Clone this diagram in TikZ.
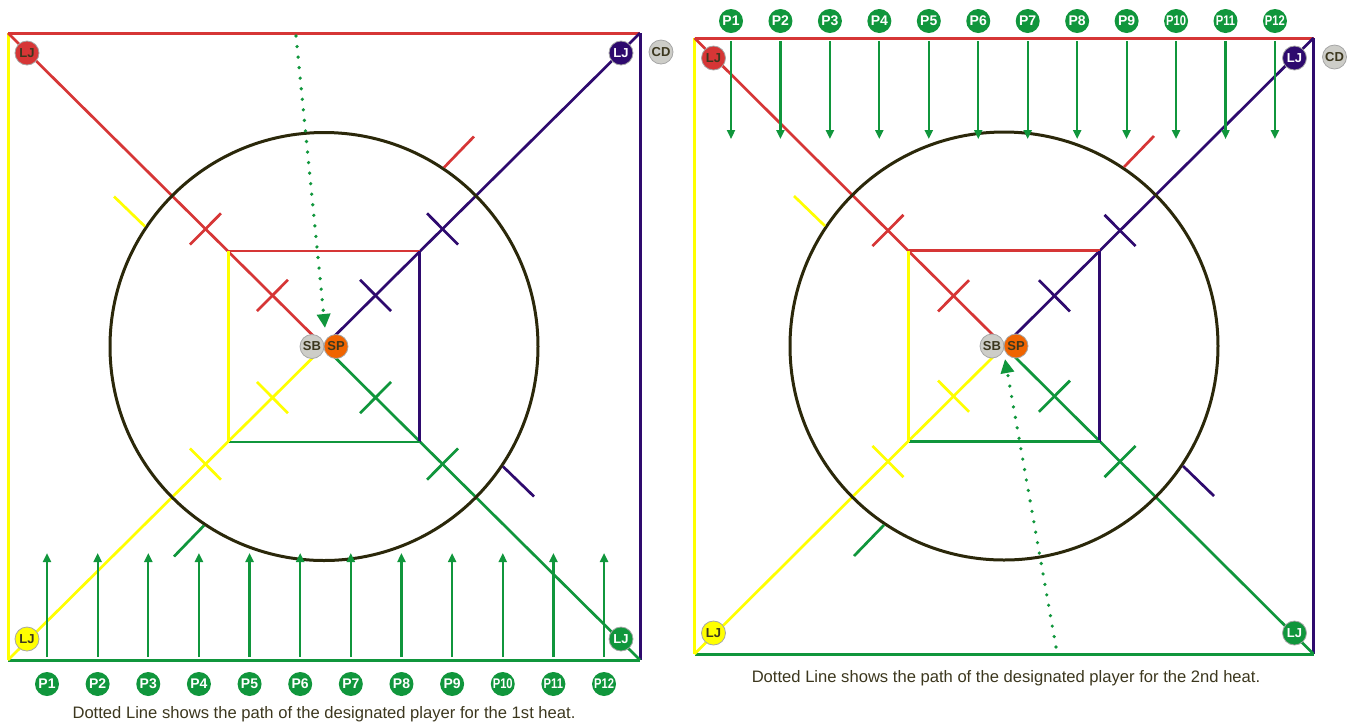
\documentclass[tikz,border=0pt]{standalone}
\usepackage{fontspec}
\setmainfont{Liberation Sans}
\usetikzlibrary{arrows.meta,calc}

\definecolor{lnred}{HTML}{D63636}
\definecolor{lnyellow}{HTML}{FFFF00}
\definecolor{lnpurple}{HTML}{2E0A6E}
\definecolor{lngreen}{HTML}{10963C}
\definecolor{ringdark}{HTML}{2B280A}
\definecolor{inkdark}{HTML}{3C371E}
\definecolor{spot}{HTML}{F06400}
\definecolor{pale}{HTML}{CDCDC8}

% two-digit player numbers are squeezed
\newcommand\plabel[1]{\ifnum#1>9 \scalebox{0.8}[1]{P#1}\else P#1\fi}

\begin{document}
\begin{tikzpicture}[x=0.5pt, y=-0.5pt,
  edge/.style={line width=1.5pt},
  spoke/.style={line width=1.35pt},
  tickline/.style={line width=1.35pt},
  ring/.style={draw=ringdark, line width=1.5pt},
  disc/.style={circle, draw=black!35, line width=0.4pt, fill=#1, minimum size=12pt,
               inner sep=0pt, text=inkdark, font=\bfseries\fontsize{6.5}{7}\selectfont},
  disc/.default={pale},
  pnode/.style={circle, fill=lngreen, minimum size=12pt, inner sep=0pt, text=white,
                font=\bfseries\fontsize{7}{8}\selectfont},
  parrow/.style={-{Triangle[length=4.5pt,width=4pt]}, lngreen, line width=1.1pt},
  walk/.style={-{Triangle[length=7pt,width=6.5pt]}, lngreen, line width=1.8pt,
               line cap=round, dash pattern=on 0pt off 5.3pt},
  caption/.style={text=inkdark, font=\fontsize{8.3}{10}\selectfont}
]
  \useasboundingbox (0,0) rectangle (1351,725);

  \foreach \s/\cx/\cy/\hw/\hh in {a/324/346.5/316/313.5, b/1004/346/309.5/308} {
    \coordinate (C\s) at (\cx,\cy);
    \coordinate (TL\s) at ($(C\s)+(-\hw,-\hh)$);
    \coordinate (TR\s) at ($(C\s)+(\hw,-\hh)$);
    \coordinate (BL\s) at ($(C\s)+(-\hw,\hh)$);
    \coordinate (BR\s) at ($(C\s)+(\hw,\hh)$);

    % outer square
    \draw[edge,lnyellow] (TL\s) -- (BL\s);
    \draw[edge,lnpurple] (TR\s) -- (BR\s);
    \draw[edge,lnred] (TL\s) -- (TR\s);
    \draw[edge,lngreen] (BL\s) -- (BR\s);

    % diagonals
    \draw[spoke,lnred] (TL\s) -- (C\s);
    \draw[spoke,lnpurple] (TR\s) -- (C\s);
    \draw[spoke,lnyellow] (BL\s) -- (C\s);
    \draw[spoke,lngreen] (BR\s) -- (C\s);

    \draw[ring] (C\s) circle[radius=107pt];

    % inner square
    \draw[spoke,lnred] ($(C\s)+(-95.5,-95.5)$) -- ($(C\s)+(95.5,-95.5)$);
    \draw[spoke,lnpurple] ($(C\s)+(95.5,-95.5)$) -- ($(C\s)+(95.5,95.5)$);
    \draw[spoke,lngreen] ($(C\s)+(-95.5,95.5)$) -- ($(C\s)+(95.5,95.5)$);
    \draw[spoke,lnyellow] ($(C\s)+(-95.5,-95.5)$) -- ($(C\s)+(-95.5,95.5)$);

    % cross marks on the diagonals
    \foreach \k/\c in {TL/lnred, TR/lnpurple, BL/lnyellow, BR/lngreen}
      \foreach \f in {0.163,0.375} {
        \coordinate (m) at ($(C\s)!\f!(\k\s)$);
        \draw[tickline,\c] ($(m)!11pt!90:(\k\s)$) -- ($(m)!11pt!-90:(\k\s)$);
      }

    % sector marks at the ring
    \draw[tickline,lnyellow] ($(C\s)+(-210,-150)$) -- ($(C\s)+(-179,-120)$);
    \draw[tickline,lnred] ($(C\s)+(150,-210)$) -- ($(C\s)+(120,-179)$);
    \draw[tickline,lnpurple] ($(C\s)+(210,150)$) -- ($(C\s)+(179,120)$);
    \draw[tickline,lngreen] ($(C\s)+(-150,210)$) -- ($(C\s)+(-120,179)$);

    % corner players
    \node[disc=lnred] (ljTL\s) at ($(TL\s)+(19,20)$) {LJ};
    \node[disc=lnpurple, text=white] (ljTR\s) at ($(TR\s)+(-19,20)$) {LJ};
    \node[disc=lnyellow] (ljBL\s) at ($(BL\s)+(19,-21)$) {LJ};
    \node[disc=lngreen, text=white] (ljBR\s) at ($(BR\s)+(-19,-21)$) {LJ};
    \node[disc] (cd\s) at ($(TR\s)+(21,19)$) {CD};

    \node[disc] (sb\s) at ($(C\s)+(-12,0)$) {SB};
    \node[disc=spot] (sp\s) at ($(C\s)+(12,0)$) {SP};
  }

  % 1st heat: players along the bottom
  \foreach \i in {1,...,12} {
    \pgfmathsetmacro\px{47+(\i-1)*50.64}
    \node[pnode] (pa\i) at (\px,684) {\plabel{\i}};
    \coordinate (afoot\i) at (\px,657);
    \coordinate (atip\i) at (\px,553);
    \draw[parrow] (afoot\i) -- (atip\i);
  }

  % 2nd heat: players along the top
  \foreach \i in {1,...,12} {
    \pgfmathsetmacro\px{731+(\i-1)*49.45}
    \node[pnode] (pb\i) at (\px,21) {\plabel{\i}};
    \coordinate (bfoot\i) at (\px,41);
    \coordinate (btip\i) at (\px,139);
    \draw[parrow] (bfoot\i) -- (btip\i);
  }

  % designated player paths
  \coordinate (walkAstart) at (296,36);
  \coordinate (walkAend) at (325,328);
  \draw[walk] (walkAstart) -- (walkAend);
  \coordinate (walkBstart) at (1056,647);
  \coordinate (walkBend) at (1005,359);
  \draw[walk] (walkBstart) -- (walkBend);

  \node[caption] (capa) at (324,714) {Dotted Line shows the path of the designated player for the 1st heat.};
  \node[caption] (capb) at (1006,678) {Dotted Line shows the path of the designated player for the 2nd heat.};
\end{tikzpicture}
\end{document}
